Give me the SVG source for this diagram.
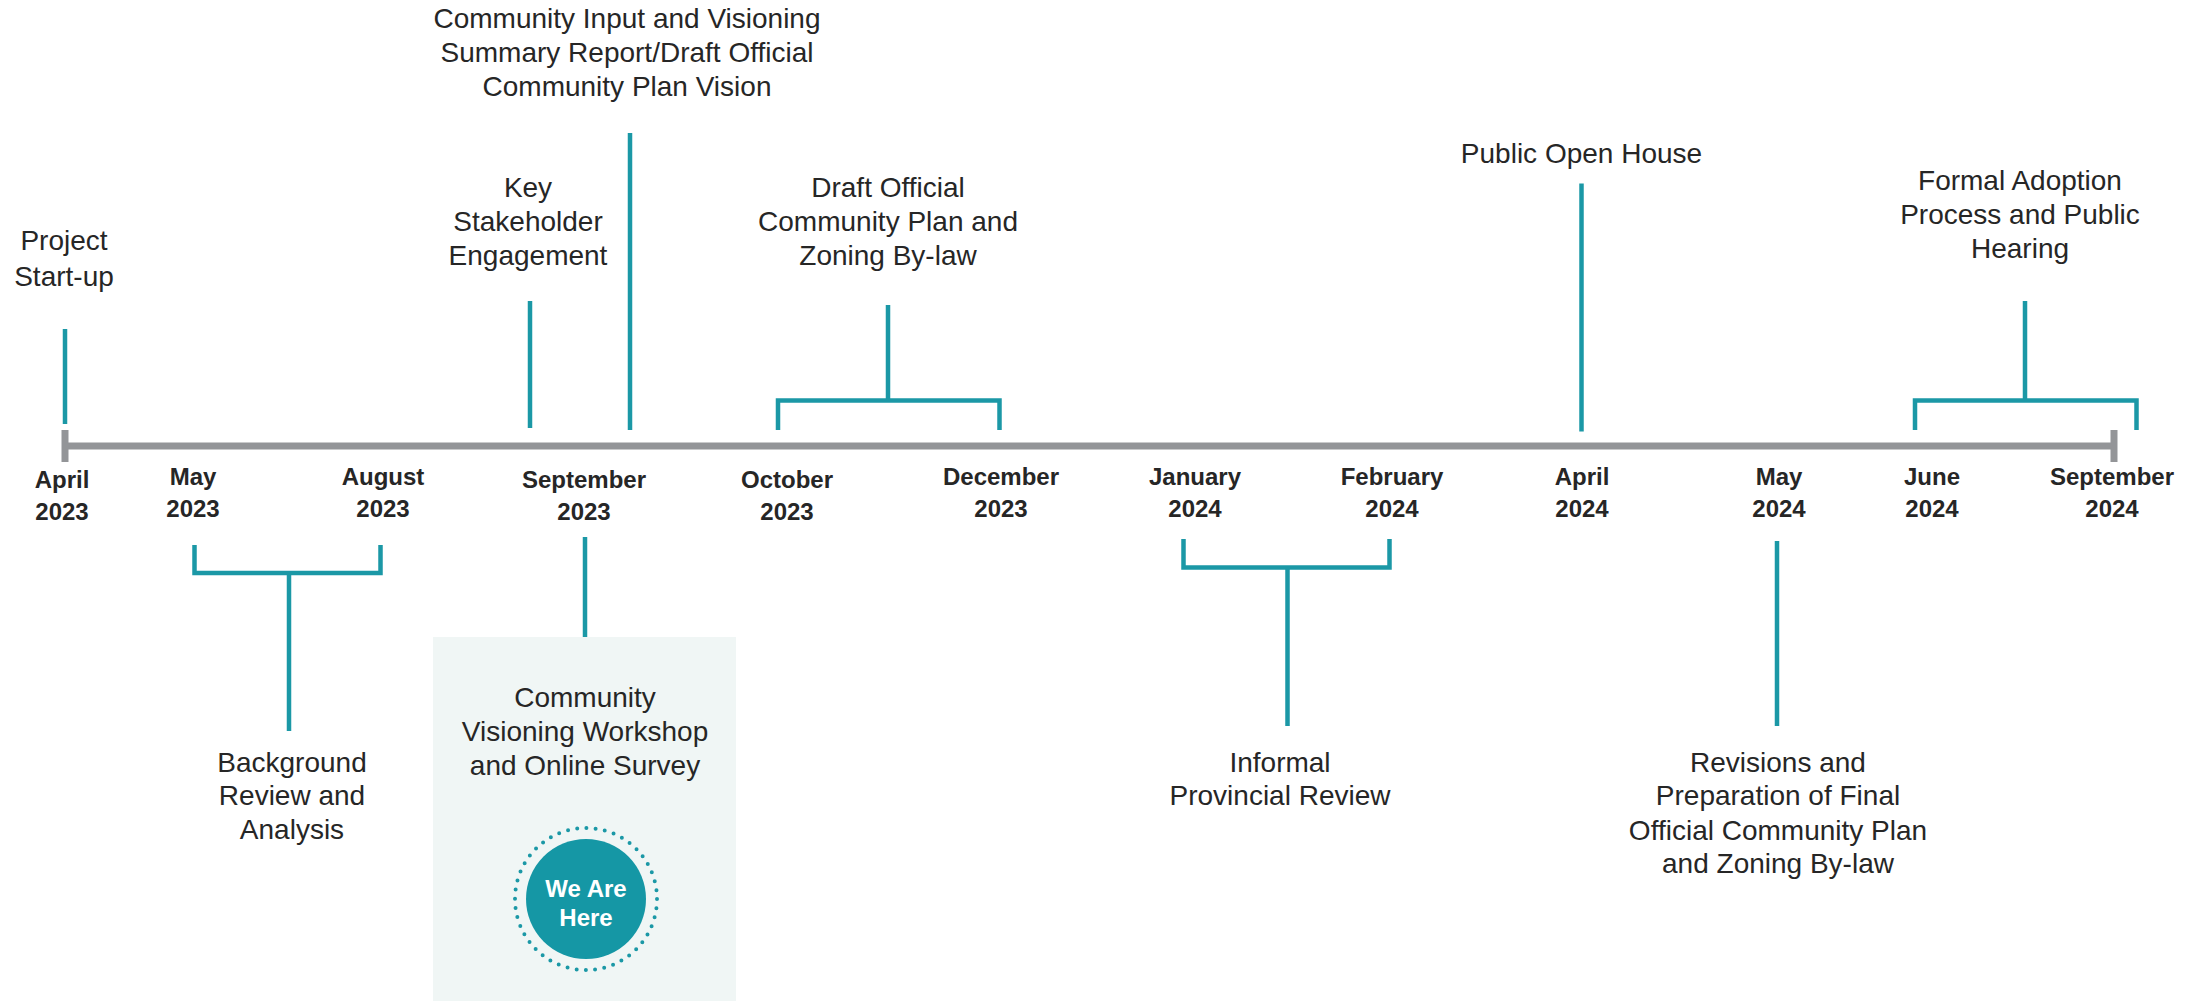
<svg xmlns="http://www.w3.org/2000/svg" width="2208" height="1001" viewBox="0 0 2208 1001">
<style>
.lbl{font-family:"Liberation Sans",Arial,sans-serif;font-size:28px;fill:#262626;text-anchor:middle}
.mon{font-family:"Liberation Sans",Arial,sans-serif;font-size:24px;font-weight:bold;fill:#262626;text-anchor:middle}
.here{font-family:"Liberation Sans",Arial,sans-serif;font-size:24px;font-weight:bold;fill:#ffffff;text-anchor:middle}
.tl{stroke:#1b98a6;stroke-width:4.5;fill:none}
.axis{stroke:#939598;stroke-width:7;fill:none}
</style>
<rect width="2208" height="1001" fill="#ffffff"/>

<g id="axis">
  <line class="axis" x1="65" y1="446" x2="2114" y2="446"/>
  <line class="axis" x1="65" y1="430" x2="65" y2="462"/>
  <line class="axis" x1="2114" y1="430" x2="2114" y2="462"/>
</g>

<g id="months">
  <text class="mon" x="62" y="488">April</text><text class="mon" x="62" y="520">2023</text>
  <text class="mon" x="193" y="485">May</text><text class="mon" x="193" y="517">2023</text>
  <text class="mon" x="383" y="485">August</text><text class="mon" x="383" y="517">2023</text>
  <text class="mon" x="584" y="488">September</text><text class="mon" x="584" y="520">2023</text>
  <text class="mon" x="787" y="488">October</text><text class="mon" x="787" y="520">2023</text>
  <text class="mon" x="1001" y="485">December</text><text class="mon" x="1001" y="517">2023</text>
  <text class="mon" x="1195" y="485">January</text><text class="mon" x="1195" y="517">2024</text>
  <text class="mon" x="1392" y="485">February</text><text class="mon" x="1392" y="517">2024</text>
  <text class="mon" x="1582" y="485">April</text><text class="mon" x="1582" y="517">2024</text>
  <text class="mon" x="1779" y="485">May</text><text class="mon" x="1779" y="517">2024</text>
  <text class="mon" x="1932" y="485">June</text><text class="mon" x="1932" y="517">2024</text>
  <text class="mon" x="2112" y="485">September</text><text class="mon" x="2112" y="517">2024</text>
</g>

<g id="connectors">
  <line class="tl" x1="65" y1="329" x2="65" y2="424"/>
  <line class="tl" x1="530" y1="301" x2="530" y2="428"/>
  <line class="tl" x1="630" y1="133" x2="630" y2="430"/>
  <path class="tl" d="M778,430 V400.5 H999.5 V430 M888,400.5 V305"/>
  <line class="tl" x1="1581.5" y1="183.5" x2="1581.5" y2="431.5"/>
  <path class="tl" d="M1915,430 V400.5 H2136.5 V430 M2025,400.5 V301"/>
  <path class="tl" d="M194.5,545 V573 H380.5 V545 M289,573 V731"/>
  <line class="tl" x1="585" y1="537" x2="585" y2="637"/>
  <path class="tl" d="M1183.5,539 V567.5 H1389.5 V539 M1287.5,567.5 V726"/>
  <line class="tl" x1="1777" y1="541" x2="1777" y2="726"/>
</g>

<g id="project-startup">
  <text class="lbl" x="64" y="250">Project</text>
  <text class="lbl" x="64" y="286">Start-up</text>
</g>

<g id="key-stakeholder">
  <text class="lbl" x="528" y="197">Key</text>
  <text class="lbl" x="528" y="231">Stakeholder</text>
  <text class="lbl" x="528" y="265">Engagement</text>
</g>

<g id="community-input">
  <text class="lbl" x="627" y="28">Community Input and Visioning</text>
  <text class="lbl" x="627" y="62">Summary Report/Draft Official</text>
  <text class="lbl" x="627" y="96">Community Plan Vision</text>
</g>

<g id="draft-ocp">
  <text class="lbl" x="888" y="197">Draft Official</text>
  <text class="lbl" x="888" y="231">Community Plan and</text>
  <text class="lbl" x="888" y="265">Zoning By-law</text>
</g>

<g id="public-open-house">
  <text class="lbl" x="1581.5" y="163">Public Open House</text>
</g>

<g id="formal-adoption">
  <text class="lbl" x="2020" y="190">Formal Adoption</text>
  <text class="lbl" x="2020" y="224">Process and Public</text>
  <text class="lbl" x="2020" y="258">Hearing</text>
</g>

<g id="background-review">
  <text class="lbl" x="292" y="772">Background</text>
  <text class="lbl" x="292" y="805">Review and</text>
  <text class="lbl" x="292" y="839">Analysis</text>
</g>

<g id="visioning-workshop">
  <rect x="433" y="637" width="303" height="364" fill="#f0f6f5"/>
  <text class="lbl" x="585" y="707">Community</text>
  <text class="lbl" x="585" y="741">Visioning Workshop</text>
  <text class="lbl" x="585" y="775">and Online Survey</text>
  <circle cx="586" cy="899" r="71" fill="none" stroke="#1b98a6" stroke-width="4" stroke-linecap="round" stroke-dasharray="0 9.29"/>
  <circle cx="586" cy="899" r="60" fill="#1597a5"/>
  <text class="here" x="586" y="897">We Are</text>
  <text class="here" x="586" y="926">Here</text>
</g>

<g id="provincial-review">
  <text class="lbl" x="1280" y="772">Informal</text>
  <text class="lbl" x="1280" y="805">Provincial Review</text>
</g>

<g id="revisions">
  <text class="lbl" x="1778" y="772">Revisions and</text>
  <text class="lbl" x="1778" y="805">Preparation of Final</text>
  <text class="lbl" x="1778" y="840">Official Community Plan</text>
  <text class="lbl" x="1778" y="873">and Zoning By-law</text>
</g>
</svg>
